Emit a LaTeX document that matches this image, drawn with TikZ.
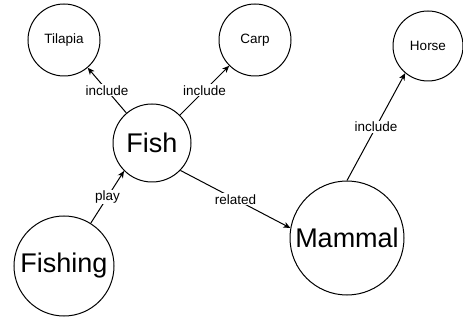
\documentclass[tikz,border=0pt]{standalone}
\usepackage{fontspec}
\setmainfont{Liberation Sans}
\usetikzlibrary{arrows.meta}

\begin{document}
\begin{tikzpicture}[x=1pt,y=-1pt,line width=1pt,
  topic/.style={draw,circle,inner sep=0pt,font=\fontsize{27}{30}\selectfont},
  item/.style={draw,circle,inner sep=0pt,minimum size=72pt,font=\fontsize{13.5}{16}\selectfont},
  rel/.style={-{Stealth[length=7pt,width=6pt,inset=2pt]}},
  lbl/.style={fill=white,inner sep=1pt,font=\fontsize{13.5}{16}\selectfont}]
\useasboundingbox (0,0) rectangle (463,320);
\node [item] (tilapia) at (64,40) {Tilapia};
\node [item] (carp) at (255,40) {Carp};
\node [item,minimum size=70pt] (horse) at (428,46) {Horse};
\node [topic,minimum size=78pt] (fish) at (152,143) {Fish};
\node [topic,minimum size=100pt] (fishing) at (64,266) {Fishing};
\node [topic,minimum size=114pt] (mammal) at (347,238) {Mammal};
\draw [rel] (fish) -- node [lbl] {include} (tilapia);
\draw [rel] (fish) -- node [lbl] {include} (carp);
\draw [rel] (fishing.58) -- node [lbl] {play} (fish.225);
\draw [rel] (fish.-44) -- node [lbl] {related} (mammal.170);
\draw [rel] (mammal.north) -- node [lbl] {include} (horse.230);
\end{tikzpicture}
\end{document}
